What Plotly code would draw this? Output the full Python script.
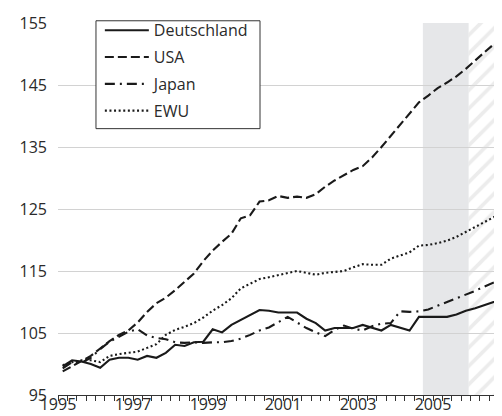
import plotly.graph_objects as go

# Quarterly data, 1995Q1 .. 2006Q4
years = list(range(1995, 2007))
quarters = [(y, q) for y in years for q in (1, 2, 3, 4)]

deutschland = [99.6, 100.6, 100.4, 100.0, 99.4, 100.7, 101.0, 101.0, 100.7, 101.3, 101.0, 101.8,
               103.1, 102.9, 103.5, 103.6, 105.6, 105.1, 106.3, 107.1, 107.8, 108.7, 108.6, 108.3,
               108.3, 108.3, 107.3, 106.6, 105.4, 105.8, 105.8, 105.8, 106.3, 105.9, 105.4, 106.3,
               105.8, 105.4, 107.6, 107.6, 107.6, 107.6, 108.0, 108.6, 109.0, 109.5, 110.0, 110.5]
usa = [98.8, 99.6, 100.5, 101.3, 102.5, 103.7, 104.7, 105.4, 106.7, 108.4, 109.8, 110.7,
       111.9, 113.2, 114.6, 116.6, 118.3, 119.7, 121.0, 123.5, 124.0, 126.2, 126.4, 127.1,
       126.8, 127.0, 126.8, 127.4, 128.6, 129.6, 130.5, 131.3, 131.9, 133.3, 135.0, 136.8,
       138.6, 140.4, 142.2, 143.3, 144.5, 145.4, 146.4, 147.6, 149.0, 150.3, 151.6, 152.8]
japan = [99.3, 100.3, 100.2, 101.0, 102.4, 103.6, 104.4, 105.2, 105.6, 104.6, 104.2, 104.0,
         103.5, 103.4, 103.5, 103.4, 103.5, 103.5, 103.7, 104.1, 104.7, 105.4, 105.9, 106.8,
         107.6, 106.7, 105.8, 105.1, 104.5, 105.5, 106.2, 105.7, 105.4, 106.1, 106.5, 106.6,
         108.5, 108.4, 108.5, 108.8, 109.4, 110.0, 110.5, 111.2, 111.8, 112.5, 113.1, 113.8]
ewu = [99.8, 100.3, 100.6, 100.6, 100.3, 101.3, 101.6, 101.8, 102.0, 102.6, 103.2, 104.7,
       105.5, 106.0, 106.6, 107.5, 108.6, 109.5, 110.6, 112.2, 113.0, 113.7, 114.0, 114.3,
       114.7, 115.0, 114.7, 114.4, 114.7, 114.9, 115.0, 115.6, 116.1, 116.0, 116.0, 117.0,
       117.5, 118.0, 119.1, 119.2, 119.5, 119.9, 120.5, 121.3, 122.0, 122.8, 123.6, 124.5]

tick_years = [1995, 1997, 1999, 2001, 2003, 2005]
y_ticks = [95, 105, 115, 125, 135, 145, 155]

grey_start, grey_end = 2004.73, 2005.95   # shaded period
hatch_end = 2007.0                         # hatched (forecast) period
x_min, x_max = 1995.0, 2007.0
y_min, y_max = 95, 155

# position each quarter at its midpoint
x = [y + (q - 0.5) / 4 for (y, q) in quarters]

ink = "#1a1a1a"
font_family = "Open Sans, Noto Sans, sans-serif"

fig = go.Figure()

# hatched forecast area
fig.add_trace(go.Scatter(
    x=[grey_end, hatch_end, hatch_end, grey_end, grey_end],
    y=[y_min, y_min, y_max, y_max, y_min],
    mode="none", fill="toself",
    fillpattern=dict(shape="/", fgcolor="#d9d9d9", bgcolor="rgba(255,255,255,0)",
                     size=13, solidity=0.28),
    fillcolor="rgba(0,0,0,0)",
    showlegend=False, hoverinfo="skip",
))

series = [
    ("Deutschland", deutschland, "solid"),
    ("USA", usa, "9px,4px"),
    ("Japan", japan, "10px,5px,2px,5px"),
    ("EWU", ewu, "2px,2.6px"),
]
for name, vals, dash in series:
    fig.add_trace(go.Scatter(
        x=x, y=vals, name=name, mode="lines", legendgroup=name,
        line=dict(color=ink, width=2.1, dash=dash),
    ))

fig.add_shape(type="rect", xref="x", yref="paper",
              x0=grey_start, x1=grey_end, y0=0, y1=1,
              fillcolor="#e6e7e9", line_width=0, layer="below")

# legend frame
fig.add_shape(type="rect", xref="paper", yref="paper",
              x0=0.0844, x1=0.4489, y0=0.716, y1=1.006,
              fillcolor="white", line=dict(color="#333333", width=1), layer="above")

fig.update_layout(
    width=502, height=416,
    margin=dict(l=50, r=2, t=15, b=29),
    paper_bgcolor="white", plot_bgcolor="white",
    font=dict(family=font_family, size=16, color="#2a2a2a"),
    showlegend=True,
    legend=dict(
        x=0.093, y=1.026, xanchor="left", yanchor="top",
        bgcolor="rgba(0,0,0,0)", borderwidth=0,
        font=dict(size=16, color="#2a2a2a"),
        tracegroupgap=3, itemwidth=44,
    ),
)

fig.update_xaxes(
    range=[x_min, x_max],
    tickmode="array", tickvals=tick_years, ticktext=[str(t) for t in tick_years],
    ticks="outside", ticklen=5, tickwidth=1, tickcolor="#333333",
    minor=dict(ticks="outside", ticklen=5, tickwidth=1, tickcolor="#333333",
               dtick=0.25, tick0=1995, showgrid=False),
    showline=True, linecolor="#333333", linewidth=1,
    showgrid=False, zeroline=False, automargin=False,
    ticklabelstandoff=-10,
    tickfont=dict(size=16),
)
fig.update_yaxes(
    range=[y_min, y_max],
    tickmode="array", tickvals=y_ticks, ticktext=[str(t) for t in y_ticks],
    ticks="", showline=False,
    showgrid=True, gridcolor="#d2d2d2", gridwidth=1.3,
    zeroline=False, automargin=False,
    ticklabelstandoff=10,
    tickfont=dict(size=16),
)

fig.write_html("out.html")
